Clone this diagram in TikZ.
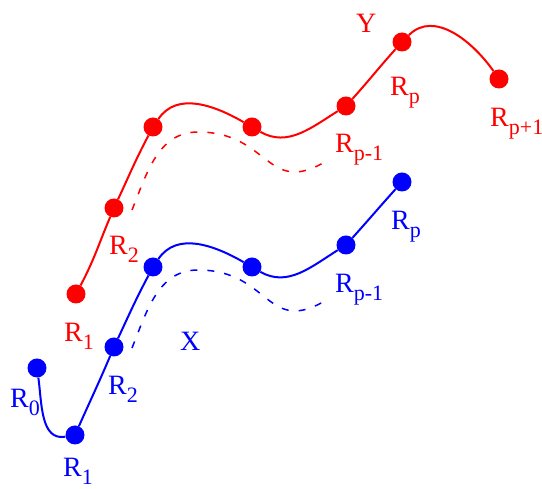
\documentclass[tikz,border=0pt]{standalone}
\usepackage{fontspec}
\setmainfont{Liberation Serif}
\usetikzlibrary{positioning}

\newcommand\idx[1]{\raisebox{-8pt}{\fontsize{22}{24}\selectfont #1}}

\begin{document}
\begin{tikzpicture}[
  x=1pt, y=1pt,
  font=\fontsize{28}{30}\selectfont,
  dot/.style={circle, fill=#1, minimum size=19pt, inner sep=0pt},
  chain/.style={line width=2pt, draw=#1},
  ghost/.style={line width=1.5pt, draw=#1, dash pattern=on 7pt off 10pt},
  lbl/.style={text=#1, inner sep=0pt, anchor=base west}
]
\useasboundingbox (0,0) rectangle (542,489);

% chain X
\node[dot=blue] (b0) at (37,121) {};
\node[dot=blue] (b1) at (75,54) {};
\node[dot=blue] (b2) at (114,142) {};
\node[dot=blue] (b3) at (153,222) {};
\node[dot=blue] (b4) at (252,222) {};
\node[dot=blue] (b5) at (346,244) {};
\node[dot=blue] (b6) at (402,307) {};

% chain Y
\node[dot=red] (r1) at (76,195) {};
\node[dot=red] (r2) at (114,281) {};
\node[dot=red] (r3) at (153,362) {};
\node[dot=red] (r4) at (252,362) {};
\node[dot=red] (r5) at (346,383) {};
\node[dot=red] (r6) at (402,447) {};
\node[dot=red] (r7) at (499,410) {};

\draw[chain=blue] (b0) to[out=-82,in=190] (b1) to[out=66,in=-113] (b2)
  to[out=65,in=-118] (b3) to[out=56,in=150] (b4) to[out=-30,in=212] (b5)
  to[out=48,in=228] (b6);
\draw[chain=red] (r1) to[out=62,in=-113] (r2)
  to[out=65,in=-118] (r3) to[out=56,in=150] (r4) to[out=-30,in=212] (r5)
  to[out=48,in=228] (r6) to[out=45,in=125] (r7);

% the other possible paths
\coordinate (xa) at (132,141);
\coordinate (xp) at (198,219);
\coordinate (xb) at (328,190);
\coordinate (ya) at (132,279);
\coordinate (yp) at (198,357);
\coordinate (yb) at (328,329);
\draw[ghost=blue] (xa) to[out=68,in=180] (xp) to[out=0,in=212,looseness=1.4] (xb);
\draw[ghost=red] (ya) to[out=68,in=180] (yp) to[out=0,in=212,looseness=1.4] (yb);

% labels
\node[lbl=red] (ylab) at (356,456) {Y};
\node[lbl=red] (rlp) at (390,393) {R\idx{p}};
\node[lbl=red] (rlq) at (490,362) {R\idx{p+1}};
\node[lbl=red] (rlm) at (335,336) {R\idx{p-1}};
\node[lbl=red] (rl2) at (109,234) {R\idx{2}};
\node[lbl=red] (rl1) at (64,147) {R\idx{1}};
\node[lbl=blue] (xlab) at (180,138) {X};
\node[lbl=blue] (blp) at (391,259) {R\idx{p}};
\node[lbl=blue] (blm) at (335,196) {R\idx{p-1}};
\node[lbl=blue] (bl2) at (108,94) {R\idx{2}};
\node[lbl=blue] (bl0) at (10,81) {R\idx{0}};
\node[lbl=blue] (bl1) at (63,12) {R\idx{1}};

\end{tikzpicture}
\end{document}
